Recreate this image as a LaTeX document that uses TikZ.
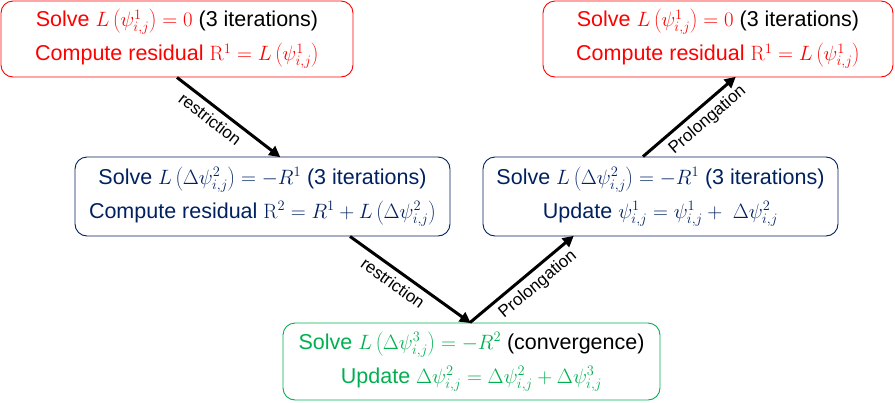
\documentclass[tikz,border=0pt]{standalone}
\usepackage[no-math]{fontspec}
\setmainfont{Liberation Sans}
\usetikzlibrary{arrows.meta,calc}
\definecolor{rd}{RGB}{255,0,0}
\definecolor{nv}{RGB}{0,32,96}
\definecolor{gr}{RGB}{0,176,80}
\tikzset{
  box/.style={draw, rounded corners=12pt, line width=0.9pt, align=center, inner sep=0pt,
    font=\fontsize{21.5}{34}\selectfont},
  conn/.style={line width=3pt, -{Triangle[length=11pt,width=11pt]}, shorten >=-1pt},
  lbl/.style={sloped, below, font=\fontsize{17}{19}\selectfont, text=black, inner sep=5pt}
}
\begin{document}
\begin{tikzpicture}[x=1pt,y=-1pt]
\useasboundingbox (0,0) rectangle (895,402);
\node[box, draw=rd, text=rd, minimum width=352pt, minimum height=76pt] (A) at (177,39)
  {Solve $L\left(\psi^1_{i,j}\right) = 0$ \textcolor{black}{(3 iterations)}\\
   Compute residual $\mathrm{R}^1 = L\left(\psi^1_{i,j}\right)$};
\node[box, draw=rd, text=rd, minimum width=350pt, minimum height=76pt] (B) at (718,39)
  {Solve $L\left(\psi^1_{i,j}\right) = 0$ \textcolor{black}{(3 iterations)}\\
   Compute residual $\mathrm{R}^1 = L\left(\psi^1_{i,j}\right)$};
\node[box, draw=nv, text=nv, minimum width=375pt, minimum height=79pt] (C) at (262.5,196.5)
  {Solve $L\left(\Delta\psi^2_{i,j}\right) = -R^1$ (3 iterations)\\
   Compute residual $\mathrm{R}^2 = R^1 + L\left(\Delta\psi^2_{i,j}\right)$};
\node[box, draw=nv, text=nv, minimum width=355pt, minimum height=79pt] (D) at (660.5,196.5)
  {Solve $L\left(\Delta\psi^2_{i,j}\right) = -R^1$ (3 iterations)\\
   Update $\psi^1_{i,j} = \psi^1_{i,j} +\ \Delta\psi^2_{i,j}$};
\node[box, draw=gr, text=gr, minimum width=377pt, minimum height=77pt] (E) at (471.5,361.5)
  {Solve $L\left(\Delta\psi^3_{i,j}\right) = -R^2$ \textcolor{black}{(convergence)}\\
   Update $\Delta\psi^2_{i,j} = \Delta\psi^2_{i,j} + \Delta\psi^3_{i,j}$};
\draw[conn] (A.south) -- node[lbl, pos=0.4] {restriction} ([xshift=17pt]C.north);
\draw[conn] ([xshift=87.5pt]C.south) -- node[lbl, pos=0.42] {restriction} ([xshift=-1.5pt]E.north);
\draw[conn] ([xshift=-1.5pt]E.north) -- node[lbl, pos=0.57] {Prolongation} ([xshift=-87.5pt]D.south);
\draw[conn] ([xshift=-17.5pt]D.north) -- node[lbl, pos=0.6] {Prolongation} ([xshift=17pt]B.south);
\end{tikzpicture}
\end{document}
